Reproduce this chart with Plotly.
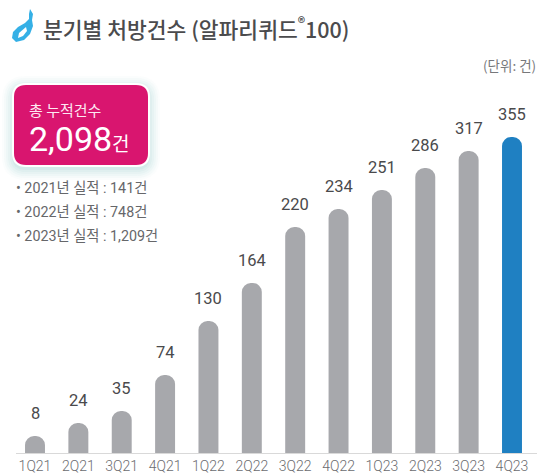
import plotly.graph_objects as go

W, H = 545, 474
PLOT_BOTTOM = 453
quarters = ["1Q21","2Q21","3Q21","4Q21","1Q22","2Q22","3Q22","4Q22","1Q23","2Q23","3Q23","4Q23"]
counts = [8,24,35,74,130,164,220,234,251,286,317,355]
# The source bars are not proportional to their labels: these are the drawn bar heights.
drawn_heights = [17,30,42,78,132,170,226,244,263,285,302,316]
bar_colors = ["#a7a8ac"]*11 + ["#1f80c2"]
title_text = "분기별 처방건수 (알파리퀴드<sup>®</sup>100)"
unit_text = "(단위: 건)"
total_label = "총 누적건수"
total_value = "2,098"
total_unit = "건"
yearly_notes = ["• 2021년 실적 : 141건", "• 2022년 실적 : 748건", "• 2023년 실적 : 1,209건"]

KR = "Noto Sans CJK KR, Roboto, sans-serif"
LAT = "Roboto, Noto Sans CJK KR, sans-serif"
px = lambda v: v / W
py = lambda v: 1 - v / PLOT_BOTTOM

def rrect(x0, y0, x1, y1, r):
    return (f"M{px(x0+r)},{py(y0)} L{px(x1-r)},{py(y0)} Q{px(x1)},{py(y0)} {px(x1)},{py(y0+r)} "
            f"L{px(x1)},{py(y1-r)} Q{px(x1)},{py(y1)} {px(x1-r)},{py(y1)} "
            f"L{px(x0+r)},{py(y1)} Q{px(x0)},{py(y1)} {px(x0)},{py(y1-r)} "
            f"L{px(x0)},{py(y0+r)} Q{px(x0)},{py(y0)} {px(x0+r)},{py(y0)} Z")

def poly(pts):
    return "M" + " L".join(f"{px(a)},{py(b)}" for a, b in pts) + " Z"

fig = go.Figure(go.Bar(x=quarters, y=drawn_heights, marker=dict(color=bar_colors, line_width=0),
                       width=0.46, hoverinfo="skip"))

shapes = []
for g, op in [(12,0.04),(10,0.05),(8,0.06),(6,0.07),(4,0.09),(2,0.12)]:
    shapes.append(dict(type="path", xref="paper", yref="paper", path=rrect(14-g, 85-g+3, 148+g, 165+g+3, 12+g),
                       fillcolor="#8fc7c9", opacity=op, line_width=0, layer="below"))
shapes.append(dict(type="path", xref="paper", yref="paper", path=rrect(12, 83, 150, 167, 14),
                   fillcolor="#ffffff", line_width=0, layer="below"))
shapes.append(dict(type="path", xref="paper", yref="paper", path=rrect(14, 85, 148, 165, 12),
                   fillcolor="#d9156f", line_width=0, layer="below"))
# logo
shapes.append(dict(type="path", xref="paper", yref="paper",
    path=poly([(30,9),(33,14),(32,20),(33,26),(30,34),(24,40),(16,42),(12,38),(13,32),(18,27),(25,23),(29,19),(29,14)]),
    fillcolor="#35b0e6", line_width=0))
shapes.append(dict(type="path", xref="paper", yref="paper",
    path=poly([(26,27),(27,31),(23,36),(18,38),(19,33)]),
    fillcolor="#ffffff", line_width=0))

ann = []
for q, c, h in zip(quarters, counts, drawn_heights):
    ann.append(dict(x=q, y=h, xref="x", yref="y", text=str(c), showarrow=False, yanchor="middle", yshift=23,
                    font=dict(family=LAT, size=16.5, color="#4a4a4c")))
def t(x, y, text, size, color, fam=KR, anchor="left", weight=400):
    ann.append(dict(x=px(x), y=py(y), xref="paper", yref="paper", text=text, showarrow=False, borderpad=0,
                    xanchor=anchor, yanchor="middle", font=dict(family=fam, size=size, color=color, weight=weight)))
t(42, 28, title_text, 21.5, "#4b4b4d", weight=500)
t(537, 65, unit_text, 13.5, "#77787b", anchor="right")
t(28, 109, total_label, 15, "#fde9f2")
t(28, 139, total_value, 34, "#ffffff", fam=LAT)
t(111, 142, total_unit, 19, "#ffffff")
for y, n in zip([188, 212, 236], yearly_notes):
    t(15, y, n, 14.3, "#66676a", fam=LAT)

left, right = 16, 537
step = (512 - 35) / 11
fig.update_layout(
    width=W, height=H, margin=dict(l=0, r=0, t=0, b=H-PLOT_BOTTOM, pad=0),
    paper_bgcolor="white", plot_bgcolor="white", showlegend=False,
    barcornerradius=10, shapes=shapes, annotations=ann,
    xaxis=dict(domain=[left/W, right/W], type="category", categoryorder="array", categoryarray=quarters,
               range=[(left-35)/step, (right-35)/step], showline=True, linecolor="#d9d9d9", linewidth=1,
               ticks="", showgrid=False, tickfont=dict(family=LAT, size=14, color="#6b6c6f", weight=300)),
    yaxis=dict(range=[0, PLOT_BOTTOM], domain=[0, 1], visible=False),
)
fig.write_html("out.html", config=dict(displayModeBar=False),
               post_script="document.body.style.margin='0';document.body.style.overflow='hidden';")
